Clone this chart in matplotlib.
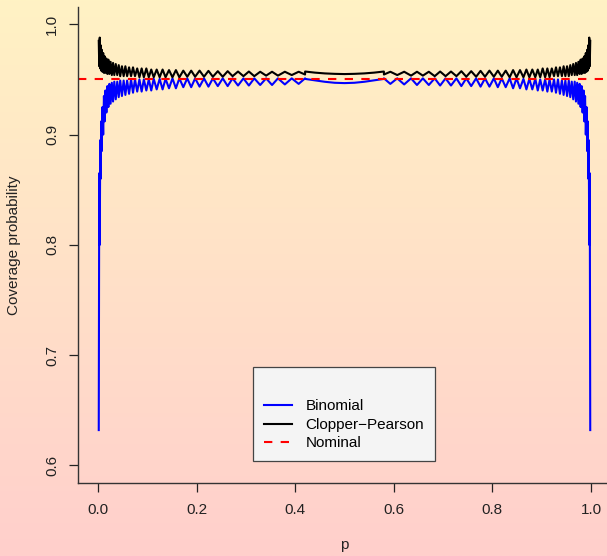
import matplotlib
matplotlib.use('Agg')
import matplotlib.pyplot as plt
import numpy as np
from matplotlib.colors import LinearSegmentedColormap
from matplotlib.lines import Line2D

plt.rcParams['font.family'] = ['Liberation Sans', 'DejaVu Sans']

# p grid, left side (teeth get wider towards the middle)
p_left = [
    0.0015, 0.0025, 0.0035, 0.0045, 0.0055, 0.0065, 0.0075, 0.0090,
    0.0105, 0.0120, 0.0135, 0.0150, 0.0170, 0.0190, 0.0210, 0.0230,
    0.0255, 0.0280, 0.0305, 0.0330, 0.0360, 0.0390, 0.0420, 0.0450,
    0.0485, 0.0520, 0.0555, 0.0590, 0.0630, 0.0670, 0.0710, 0.0750,
    0.0795, 0.0840, 0.0885, 0.0930, 0.0980, 0.1030, 0.1080, 0.1130,
    0.1190, 0.1250, 0.1310, 0.1370, 0.1440, 0.1510, 0.1580, 0.1650,
    0.1730, 0.1810, 0.1890, 0.1970, 0.2060, 0.2150, 0.2240, 0.2330,
    0.2430, 0.2530, 0.2630, 0.2730, 0.2840, 0.2950, 0.3060, 0.3170,
    0.3290, 0.3410, 0.3530, 0.3650, 0.3790, 0.3930, 0.4070, 0.4200,
]
cp_left = [
    0.985, 0.962, 0.988, 0.960, 0.981, 0.958, 0.977, 0.957,
    0.974, 0.956, 0.971, 0.956, 0.969, 0.955, 0.968, 0.955,
    0.966, 0.954, 0.965, 0.954, 0.964, 0.954, 0.963, 0.953,
    0.962, 0.953, 0.962, 0.953, 0.961, 0.953, 0.961, 0.953,
    0.960, 0.952, 0.960, 0.952, 0.960, 0.952, 0.959, 0.952,
    0.959, 0.952, 0.959, 0.952, 0.9585, 0.952, 0.9585, 0.952,
    0.958, 0.9525, 0.958, 0.9525, 0.958, 0.9525, 0.9578, 0.9525,
    0.9575, 0.9525, 0.9575, 0.953, 0.9572, 0.953, 0.9572, 0.953,
    0.957, 0.9535, 0.957, 0.9535, 0.957, 0.954, 0.957, 0.9545,
]
binom_left = [
    0.632, 0.865, 0.800, 0.895, 0.860, 0.912, 0.885, 0.925,
    0.900, 0.935, 0.912, 0.940, 0.920, 0.944, 0.925, 0.946,
    0.928, 0.947, 0.930, 0.948, 0.932, 0.948, 0.934, 0.949,
    0.935, 0.949, 0.936, 0.949, 0.937, 0.950, 0.938, 0.950,
    0.939, 0.950, 0.939, 0.950, 0.940, 0.950, 0.940, 0.9505,
    0.941, 0.9505, 0.941, 0.9505, 0.942, 0.951, 0.942, 0.951,
    0.943, 0.951, 0.943, 0.951, 0.9435, 0.951, 0.9435, 0.951,
    0.944, 0.951, 0.944, 0.951, 0.9445, 0.951, 0.9445, 0.951,
    0.945, 0.951, 0.945, 0.951, 0.9455, 0.951, 0.946, 0.951,
]

# smooth arc around p = 0.5
p_mid = [0.4201, 0.44, 0.46, 0.48, 0.50, 0.52, 0.54, 0.56, 0.5799]
cp_mid = [0.9572, 0.9562, 0.9555, 0.9551, 0.9549, 0.9551, 0.9555, 0.9562, 0.9572]
binom_mid = [0.9505, 0.9492, 0.9479, 0.9470, 0.9467, 0.9470, 0.9479, 0.9492, 0.9505]

# right side
p_right = [
    0.5800, 0.5930, 0.6070, 0.6210, 0.6350, 0.6470, 0.6590, 0.6710,
    0.6830, 0.6940, 0.7050, 0.7160, 0.7270, 0.7370, 0.7470, 0.7570,
    0.7670, 0.7760, 0.7850, 0.7940, 0.8030, 0.8110, 0.8190, 0.8270,
    0.8350, 0.8420, 0.8490, 0.8560, 0.8630, 0.8690, 0.8750, 0.8810,
    0.8870, 0.8920, 0.8970, 0.9020, 0.9070, 0.9115, 0.9160, 0.9205,
    0.9250, 0.9290, 0.9330, 0.9370, 0.9410, 0.9445, 0.9480, 0.9515,
    0.9550, 0.9580, 0.9610, 0.9640, 0.9670, 0.9695, 0.9720, 0.9745,
    0.9770, 0.9790, 0.9810, 0.9830, 0.9850, 0.9865, 0.9880, 0.9895,
    0.9910, 0.9925, 0.9935, 0.9945, 0.9955, 0.9965, 0.9975, 0.9985,
]
cp_right = [
    0.9545, 0.957, 0.954, 0.957, 0.9535, 0.957, 0.9535, 0.957,
    0.953, 0.9572, 0.953, 0.9572, 0.953, 0.9575, 0.9525, 0.9575,
    0.9525, 0.9578, 0.9525, 0.958, 0.9525, 0.958, 0.9525, 0.958,
    0.952, 0.9585, 0.952, 0.9585, 0.952, 0.959, 0.952, 0.959,
    0.952, 0.959, 0.952, 0.960, 0.952, 0.960, 0.952, 0.960,
    0.953, 0.961, 0.953, 0.961, 0.953, 0.962, 0.953, 0.962,
    0.953, 0.963, 0.954, 0.964, 0.954, 0.965, 0.954, 0.966,
    0.955, 0.968, 0.955, 0.969, 0.956, 0.971, 0.956, 0.974,
    0.957, 0.977, 0.958, 0.981, 0.960, 0.988, 0.962, 0.985,
]
binom_right = [
    0.951, 0.946, 0.951, 0.9455, 0.951, 0.945, 0.951, 0.945,
    0.951, 0.9445, 0.951, 0.9445, 0.951, 0.944, 0.951, 0.944,
    0.951, 0.9435, 0.951, 0.9435, 0.951, 0.943, 0.951, 0.943,
    0.951, 0.942, 0.951, 0.942, 0.9505, 0.941, 0.9505, 0.941,
    0.9505, 0.940, 0.950, 0.940, 0.950, 0.939, 0.950, 0.939,
    0.950, 0.938, 0.950, 0.937, 0.949, 0.936, 0.949, 0.935,
    0.949, 0.934, 0.948, 0.932, 0.948, 0.930, 0.947, 0.928,
    0.946, 0.925, 0.944, 0.920, 0.940, 0.912, 0.935, 0.900,
    0.925, 0.885, 0.912, 0.860, 0.895, 0.800, 0.865, 0.632,
]

nominal = 0.95
x_ticks = [0.0, 0.2, 0.4, 0.6, 0.8, 1.0]
y_ticks = [0.6, 0.7, 0.8, 0.9, 1.0]

p_all = p_left + p_mid + p_right
cp_all = cp_left + cp_mid + cp_right
binom_all = binom_left + binom_mid + binom_right

W, H = 607, 556
FS = 11
fig = plt.figure(figsize=(W / 100, H / 100), dpi=100)

# gradient background, yellow at the top to pink at the bottom
bg = fig.add_axes([0, 0, 1, 1], zorder=0)
cmap = LinearSegmentedColormap.from_list('bg', ['#FFF2C4', '#FFCFCC'])
bg.imshow(np.linspace(0, 1, 256).reshape(-1, 1), aspect='auto', cmap=cmap,
          extent=[0, 1, 0, 1], origin='upper')
bg.axis('off')

left, right, top, bottom = 78.3, 610.7, 6.7, 483.0
ax = fig.add_axes([left / W, 1 - bottom / H, (right - left) / W, (bottom - top) / H], zorder=1)
ax.patch.set_alpha(0)

ax.plot(p_all, binom_all, color='blue', lw=1.5)
ax.plot(p_all, cp_all, color='black', lw=1.5)
ax.axhline(nominal, color='red', lw=1.5, ls=(0, (4, 4)))

ax.set_xlim(-0.04, 1.04)
ax.set_ylim(0.584, 1.016)

ax.set_xticks(x_ticks)
ax.set_xticklabels([f'{v:.1f}' for v in x_ticks])
ax.set_yticks(y_ticks)
ax.set_yticklabels([f'{v:.1f}' for v in y_ticks], rotation=90, va='center')
ax.tick_params(axis='both', length=6.3, width=0.9, color='#222222', labelsize=FS, labelcolor='#222222')
ax.tick_params(axis='x', pad=8)
ax.tick_params(axis='y', pad=7.5)

for s in ['top', 'right']:
    ax.spines[s].set_visible(False)
for s in ['left', 'bottom']:
    ax.spines[s].set_color('#333333')
    ax.spines[s].set_linewidth(1.0)

fig.text(344.5 / W, 1 - 545 / H, 'p', ha='center', va='center', fontsize=FS, color='#222222')
fig.text(14 / W, 1 - 245 / H, 'Coverage probability', ha='center', va='center',
         rotation=90, fontsize=FS, color='#222222')

handles = [
    Line2D([], [], color='blue', lw=1.5),
    Line2D([], [], color='black', lw=1.5),
    Line2D([], [], color='red', lw=1.5, ls=(0, (4, 4))),
]
leg = ax.legend(handles, ['Binomial', 'Clopper\u2212Pearson', 'Nominal'],
                loc='upper left', bbox_to_anchor=(253 / W, 1 - 367 / H),
                bbox_transform=fig.transFigure, title=' ', title_fontsize=13.5,
                fontsize=FS, frameon=True, fancybox=False, framealpha=1,
                facecolor='#F4F4F4', edgecolor='#444444', handlelength=1.85,
                handletextpad=0.9, labelspacing=0.3, borderpad=0.7, borderaxespad=0)
leg.get_frame().set_linewidth(0.9)

fig.savefig('out.png', dpi=100)
